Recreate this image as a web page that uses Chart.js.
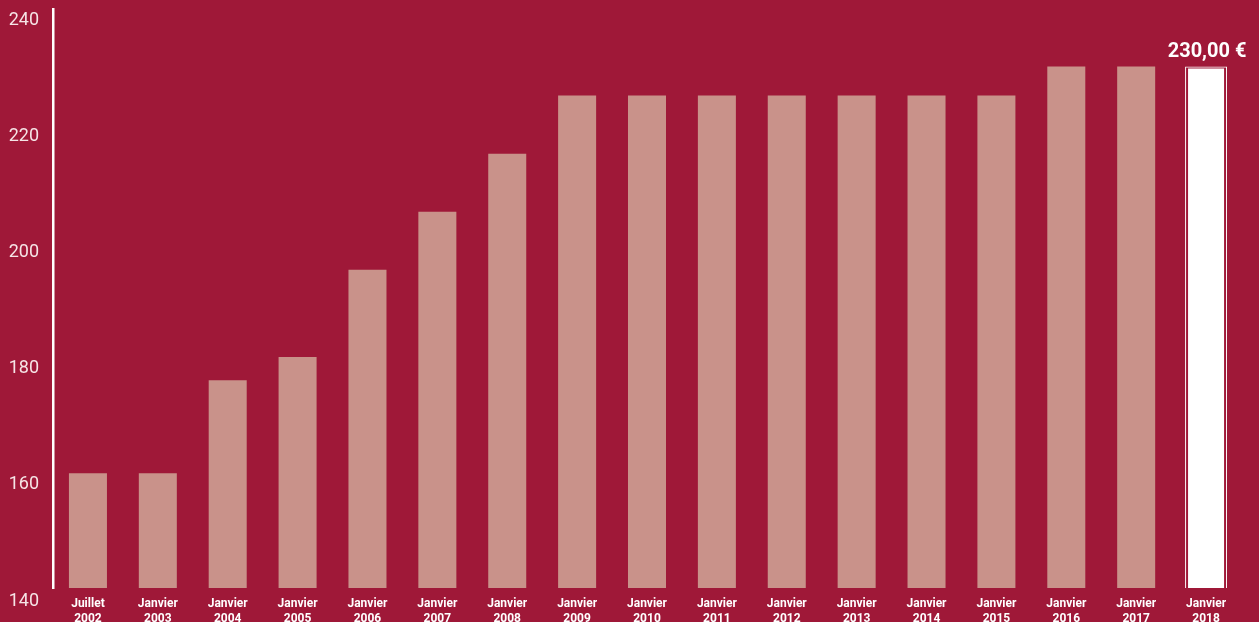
<!DOCTYPE html>
<html>
<head>
<meta charset="utf-8">
<script src="https://cdn.jsdelivr.net/npm/chart.js@4.4.1/dist/chart.umd.min.js"></script>
<style>
  html, body { margin: 0; padding: 0; background: #9f1838; }
  canvas { display: block; }
</style>
</head>
<body>
<canvas id="chart" width="1259" height="622"></canvas>
<script>
'use strict';

// données
const categories = [
  ['Juillet', '2002'], ['Janvier', '2003'], ['Janvier', '2004'], ['Janvier', '2005'],
  ['Janvier', '2006'], ['Janvier', '2007'], ['Janvier', '2008'], ['Janvier', '2009'],
  ['Janvier', '2010'], ['Janvier', '2011'], ['Janvier', '2012'], ['Janvier', '2013'],
  ['Janvier', '2014'], ['Janvier', '2015'], ['Janvier', '2016'], ['Janvier', '2017'],
  ['Janvier', '2018']
];
const values = [162, 162, 178, 182, 197, 207, 217, 227, 227, 227, 227, 227, 227, 227, 232, 232, 232];
const yTicks = [140, 160, 180, 200, 220, 240];
const highlightLabel = '230,00 €';

const bgColor = '#9f1838';
const barColor = '#c9928a';
const last = values.length - 1;

// étiquette de la dernière barre
const valueLabel = {
  id: 'valueLabel',
  afterDatasetsDraw(chart) {
    const bar = chart.getDatasetMeta(0).data[last];
    const ctx = chart.ctx;
    ctx.save();
    ctx.fillStyle = '#ffffff';
    ctx.font = 'bold 20px Roboto';
    ctx.textAlign = 'center';
    ctx.textBaseline = 'alphabetic';
    ctx.fillText(highlightLabel, bar.x + 1, 57);
    ctx.restore();
  }
};

new Chart(document.getElementById('chart').getContext('2d'), {
  type: 'bar',
  data: {
    labels: categories,
    datasets: [{
      data: values,
      backgroundColor: ctx => ctx.dataIndex === last ? '#ffffff' : barColor,
      borderColor: bgColor,
      borderWidth: ctx => ctx.dataIndex === last ? { top: 2, left: 1, right: 1, bottom: 0 } : 0,
      borderSkipped: false,
      barPercentage: 0.544,
      categoryPercentage: 1,
      grouped: false,
      order: 1
    }, {
      // contour de la barre 2018
      data: values.map((v, i) => i === last ? v : null),
      backgroundColor: 'transparent',
      borderColor: '#ffffff',
      borderWidth: 1,
      borderSkipped: false,
      barPercentage: 0.601,
      categoryPercentage: 1,
      grouped: false,
      order: 0
    }]
  },
  options: {
    responsive: false,
    animation: false,
    layout: { padding: { top: 9, right: 18, left: 0, bottom: 0 } },
    plugins: {
      legend: { display: false },
      tooltip: { enabled: false }
    },
    scales: {
      x: {
        grid: { display: false, drawTicks: false },
        border: { display: false },
        ticks: {
          color: '#ffffff',
          padding: 9,
          maxRotation: 0,
          autoSkip: false,
          font: { family: 'Roboto', weight: 'bold', size: 12, lineHeight: 1.2 }
        },
        afterFit(scale) {
          scale.height = 34;
          scale.paddingLeft = 0;
          scale.paddingRight = 0;
        }
      },
      y: {
        min: 142.24,
        max: 241.9,
        grid: { display: false, drawTicks: false },
        border: { display: true, color: '#ffffff', width: 2.5 },
        ticks: {
          color: '#f6e4e6',
          padding: 14,
          font: { family: 'Roboto', size: 18 }
        },
        afterBuildTicks(scale) {
          scale.ticks = yTicks.map(v => ({ value: v }));
        },
        afterFit(scale) {
          scale.width = 53;
          scale.paddingTop = 0;
          scale.paddingBottom = 0;
        }
      }
    }
  },
  plugins: [valueLabel]
});
</script>
</body>
</html>
